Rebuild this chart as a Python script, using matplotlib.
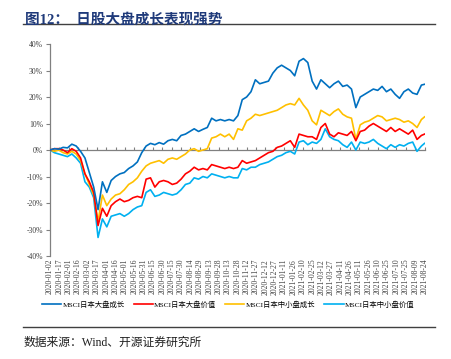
import matplotlib
matplotlib.use("Agg")
import matplotlib.pyplot as plt
import matplotlib.dates as mdates
import numpy as np
import pandas as pd

# 周度采样 (2020-01-02 起每 7 天) + 最后一天 2021-08-24
dates = list(pd.date_range("2020-01-02", periods=86, freq="7D")) + [pd.Timestamp("2021-08-24")]

large_growth = [0, 0.5, 0.3, 1.0, 0.8, 2.2, 1.5, -0.5, -3, -8.5,
                -14, -22.5, -12, -16, -11.5, -10, -9, -8.5, -7, -6,
                -4.5, -1, 1.5, 2.5, 2, 2.8, 2.2, 3.5, 4, 3.5,
                5.5, 6, 7, 8, 7, 7.8, 8.5, 12, 11, 11.5,
                11, 11.5, 11, 13, 19, 20, 22, 26.5, 25, 25.5,
                26, 29, 31, 32, 31, 30, 28, 33.5, 34.5, 33,
                26, 23, 26.5, 25, 23.5, 25, 26, 24, 24.5, 23,
                16, 20, 21, 22, 23, 22.5, 24, 22, 23, 21,
                19.5, 22, 23, 21.5, 21, 24.5, 24.8]

large_value = [0, 0.5, 0.5, 0, -1, 0.5, -0.5, -3, -9, -12,
               -16, -28.5, -22, -25, -21, -19.5, -18.5, -19.5, -19, -18,
               -17.5, -18, -11, -10.5, -14, -12, -11.5, -12, -13, -12.5,
               -11, -9, -8, -6.5, -7.5, -7, -7.5, -5.5, -6, -6.5,
               -7, -6.5, -7, -6.5, -4, -5, -4.5, -4, -3, -2,
               -1, -0.5, 1, 1.5, 2.5, 3.5, 1, 6, 5.5, 5,
               5, 4, 8.5, 10, 6, 5, 6.5, 6, 5.5, 7,
               3.5, 7, 7.5, 9, 10, 9, 8, 7, 8.5, 7,
               8, 7, 6, 7.5, 4, 5.5, 6]

small_growth = [0, -0.5, 0, -1, -1.5, -0.5, -1.5, -4, -9, -13,
                -17, -27, -17, -21, -18.5, -17, -16.5, -15, -13, -12,
                -10.5, -8, -6, -5, -4.5, -4, -5, -3.5, -3, -3.5,
                -2.5, -1.5, 0, 0.5, -0.5, 0, 0.5, 4.5, 5, 6,
                5, 6, 4, 8, 7.5, 11, 12, 13.5, 13, 13.5,
                14, 14.5, 15, 16, 17, 17.5, 17, 19.5, 17, 15,
                11, 9.5, 15, 14, 13, 14.5, 15.5, 13.5, 12.5, 12,
                4, 9.5, 10.5, 11, 12, 13, 12.5, 11, 11.5, 12,
                11.5, 10.5, 11, 10, 8.5, 11.5, 12.5]

small_value = [0, -1, -1.5, -2, -2.5, -1.5, -3, -5, -12, -14,
               -18, -33, -26, -29, -25, -24.5, -24, -25, -24, -22.5,
               -21.5, -21, -16, -15, -17.5, -17, -16, -16.5, -17, -16.5,
               -15, -13, -12.5, -10.5, -11, -10, -10.5, -9, -9.5, -10,
               -10.5, -10, -10.5, -10.5, -7, -7.5, -6.5, -6.5, -5.5, -5,
               -4.5, -3.5, -2.5, -2, -1, -0.5, -1.5, 3, 3.5, 2,
               3, 2.5, 4, 8, 5, 4, 3.5, 2, 1, 3,
               0, 3, 2.5, 3, 4, 2.5, 1.5, 0.5, 2, 1,
               2, 1.5, 2.5, 3, -0.5, 1.5, 2.5]

series_names = ["MSCI日本大盘成长", "MSCI日本大盘价值", "MSCI日本中小盘成长", "MSCI日本中小盘价值"]
series_colors = ["#0070C0", "#FF0000", "#FFC000", "#00B0F0"]

tick_dates = pd.date_range("2020-01-02", "2021-08-24", freq="15D")
tick_labels = [d.strftime("%Y-%m-%d") for d in tick_dates]

serif_cjk = ["Liberation Serif", "Noto Sans CJK SC"]
plt.rcParams["font.family"] = serif_cjk

fig = plt.figure(figsize=(4.52, 3.59), dpi=100)
ax = fig.add_axes([0.1106, 0.2869, 0.830, 0.5905])

x = mdates.date2num(dates)
# 先画后面的线, 大盘成长在最上层
all_series = [large_growth, large_value, small_growth, small_value]
order = [3, 2, 1, 0]
for i in order:
    ax.plot(x, np.array(all_series[i]) / 100, color=series_colors[i],
            lw=1.2, label=series_names[i], zorder=3 + (3 - i))

ax.set_ylim(-0.4, 0.4)
ax.set_xlim(mdates.date2num(tick_dates[0]), mdates.date2num(pd.Timestamp("2021-08-24")) + 1)
ax.set_yticks(np.arange(-0.4, 0.41, 0.1))
ax.set_yticklabels([f"{int(round(v * 100))}%" for v in np.arange(-0.4, 0.41, 0.1)])
ax.set_xticks(mdates.date2num(tick_dates))
ax.set_xticklabels(tick_labels, rotation=90)
ax.tick_params(axis="x", length=0, pad=2, labelsize=5.5, colors="#404040")
ax.tick_params(axis="y", length=3, width=0.8, color="#808080", labelsize=5.5,
               labelcolor="#404040", pad=2)

for s in ["top", "right", "bottom"]:
    ax.spines[s].set_visible(False)
ax.spines["left"].set_color("#808080")
ax.spines["left"].set_linewidth(0.9)

# 零轴 + 刻度
sec = ax.secondary_xaxis(0.5)
sec.set_xticks(mdates.date2num(tick_dates))
sec.tick_params(axis="x", labeltop=False, labelbottom=False, length=2.5,
                width=0.8, color="#808080")
for sp in sec.spines.values():
    sp.set_color("#808080")
    sp.set_linewidth(0.9)

handles, labels = ax.get_legend_handles_labels()
handles = handles[::-1]
labels = labels[::-1]
fig.legend(handles, labels, loc="center", bbox_to_anchor=(0.505, 0.152), ncol=4,
           frameon=False, fontsize=5.3, handlelength=2.6, columnspacing=1.2,
           handletextpad=0.2, prop={"family": serif_cjk, "size": 5.3})

# 标题与分割线
fig.text(0.055, 0.965, "图12：  日股大盘成长表现强势", fontsize=10.5, fontweight="bold",
         color="#1F3A7A", va="top", ha="left", family=serif_cjk)
fig.add_artist(plt.Line2D([0.051, 0.963], [0.932, 0.932], color="#404040", lw=1.0))
fig.add_artist(plt.Line2D([0.051, 0.963], [0.089, 0.089], color="#404040", lw=1.0))
fig.text(0.051, 0.044, "数据来源：Wind、开源证券研究所", fontsize=8.5, color="#202020",
         va="center", ha="left", family=serif_cjk)

fig.savefig("out.png", dpi=100)
